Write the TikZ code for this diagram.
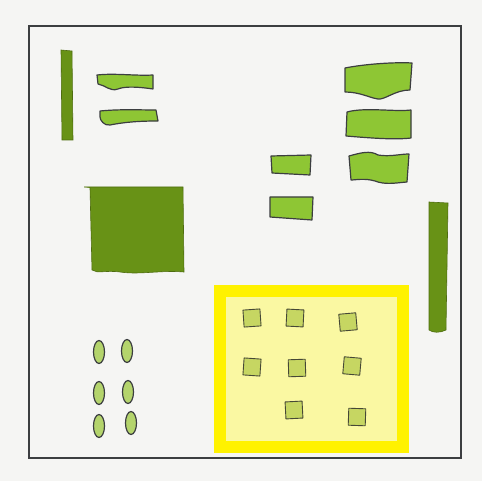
\documentclass[tikz,border=0pt]{standalone}
\definecolor{paper}{RGB}{245,245,243}
\definecolor{leafdark}{RGB}{104,146,22}
\definecolor{leaflight}{RGB}{142,198,52}
\definecolor{padgreen}{RGB}{198,214,98}
\definecolor{seedgreen}{RGB}{180,212,108}
\definecolor{ink}{RGB}{60,62,64}
\definecolor{padyellow}{RGB}{250,248,162}
\tikzset{
  darkbar/.style={fill=leafdark,draw=leafdark!75!black,line width=0.6pt},
  lightbar/.style={fill=leaflight,draw=ink,line width=1.2pt,line join=round},
  pad/.style={fill=padgreen,draw=ink!85!olive,line width=0.9pt,line join=round},
  seed/.style={fill=seedgreen,draw=ink,line width=1.2pt}
}
\begin{document}
\begin{tikzpicture}[x=1pt,y=-1pt]
  \fill[paper] (0,0) rectangle (482,481);
  \draw[ink,line width=1.5pt] (29,26) rectangle (461,458);
  \draw[darkbar] (61,50) -- (72,51) -- (73,140) -- (62,140) -- cycle;
  \draw[darkbar] (84,187) -- (183,187) -- (184,272) .. controls (160,270) and (140,275) .. (120,272) .. controls (105,270) and (98,274) .. (92,270) -- (90,188);
  \draw[darkbar] (429,202) -- (448,203) -- (446,330) .. controls (440,333) and (433,333) .. (429,330) -- cycle;
  \draw[lightbar] (97,75) .. controls (115,73) and (135,76) .. (153,75) -- (153,89) .. controls (140,87) and (125,86) .. (118,89) .. controls (110,92) and (105,85) .. (98,84) -- cycle;
  \draw[lightbar] (100,111) .. controls (120,109) and (140,110) .. (156,110) -- (158,121) .. controls (140,121) and (125,122) .. (110,125) .. controls (104,126) and (100,120) .. (100,117) -- cycle;
  \draw[lightbar] (345,68) .. controls (365,64) and (395,62) .. (412,63) -- (410,90) .. controls (395,90) and (385,100) .. (378,99) .. controls (370,98) and (360,92) .. (345,92) -- cycle;
  \draw[lightbar] (347,112) .. controls (365,107) and (395,112) .. (411,110) -- (411,138) .. controls (395,140) and (370,138) .. (346,136) -- cycle;
  \draw[lightbar] (349,156) .. controls (360,153) and (370,150) .. (378,155) .. controls (390,157) and (400,154) .. (409,154) -- (407,182) .. controls (395,183) and (385,185) .. (375,181) .. controls (365,178) and (355,180) .. (351,180) -- cycle;
  \draw[lightbar] (271,156) -- (311,155) -- (310,175) -- (272,173) -- cycle;
  \draw[lightbar] (270,197) -- (313,197) -- (312,220) -- (270,217) -- cycle;
  \draw[yellow,fill=padyellow,line width=12pt] (220,291) rectangle (403,447);
  \foreach \x/\y/\a in {252/318/4,295/318/-3,348/322/5,252/367/-4,297/368/2,352/366/-5,294/410/3,357/417/-2}
    \draw[pad,rotate around={\a:(\x,\y)}] (\x-8.5,\y-8.5) rectangle (\x+8.5,\y+8.5);
  \foreach \x/\y in {99/352,127/351,99/393,128/392,99/426,131/423}
    \draw[seed] (\x,\y) ellipse [x radius=5.5pt, y radius=11.5pt];
\end{tikzpicture}
\end{document}
